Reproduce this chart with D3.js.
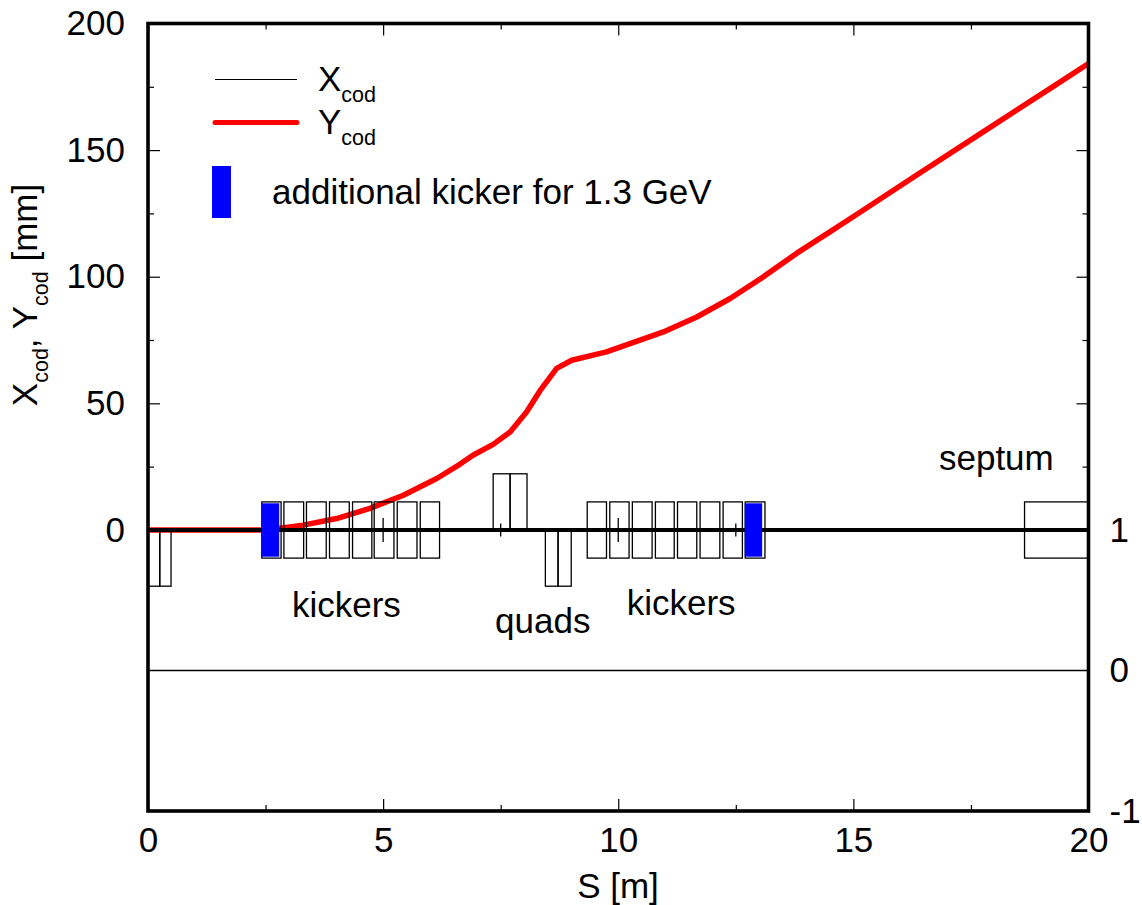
<!DOCTYPE html>
<html>
<head>
<meta charset="utf-8">
<script src="https://cdn.jsdelivr.net/npm/d3@7"></script>
<style>
  html, body { margin: 0; padding: 0; background: #fff; }
  text { font-family: "Liberation Sans", Arial, sans-serif; fill: #000; }
</style>
</head>
<body>
<svg width="1142" height="905"></svg>
<script>
// closed orbit, S in metres, Y in mm
var orbitS = [0, 2.64, 2.81, 3.30, 4.01, 4.72, 5.43, 6.14, 6.63, 6.91, 7.34, 7.70, 8.05, 8.34, 8.69, 9.01, 9.75, 10.25, 10.96, 11.67, 12.38, 13.08, 13.79, 14.50, 14.93, 16.34, 17.76, 19.18, 20];
var orbitY = [0, 0, 0.7, 1.9, 4.5, 8.5, 13.7, 20.3, 25.9, 29.5, 33.8, 38.7, 46.6, 55.1, 63.8, 67.0, 70.3, 73.6, 78.2, 84.1, 91.4, 99.9, 109.2, 117.7, 122.9, 140.1, 157.2, 174.3, 184.2];
var orbitX = [0, 20];

// lattice: start, end of each element
var kickerStart = [2.42, 2.89, 3.37, 3.86, 4.35, 4.81, 5.30, 5.79, 9.34, 9.82, 10.30, 10.79, 11.26, 11.74, 12.23, 12.70];
var kickerEnd = [2.83, 3.31, 3.79, 4.28, 4.76, 5.23, 5.72, 6.20, 9.75, 10.23, 10.72, 11.19, 11.67, 12.16, 12.64, 13.12];
var quadStart = [0, 0.25, 7.34, 7.70, 8.45, 8.72];
var quadEnd = [0.25, 0.49, 7.70, 8.06, 8.72, 9.00];
var quadStrength = [-0.4, -0.4, 0.4, 0.4, -0.4, -0.4];
var septumStart = [18.64];
var septumEnd = [20];
var extraStart = [2.42, 12.69];
var extraEnd = [2.79, 13.06];

var xMajor = [0, 5, 10, 15, 20];
var xMinor = [2.5, 7.5, 12.5, 17.5];
var yMajor = [0, 50, 100, 150, 200];
var yMinor = [25, 75, 125, 175];
var y2Ticks = [-1, 0, 1];

var midTicksLong = [5, 10];
var midTicksShort = [7.5, 12.5];

var labelText = ["kickers", "quads", "kickers", "septum"];
var labelS = [3.06, 7.38, 10.18, 16.82];
var labelY2 = [0.38, 0.267, 0.395, 1.43];

var left = 148, right = 1088.5, top_ = 23.5, bottom = 811;
var fontSize = 35;

var svg = d3.select("svg");

var x = d3.scaleLinear().domain([0, 20]).range([left, right]);
var y = d3.scaleLinear().domain([-111, 200]).range([bottom, top_]);
var y2 = d3.scaleLinear().domain([-1, 1]).range([bottom, 530]);

var line = d3.line()
    .x(function (d) { return x(d[0]); })
    .y(function (d) { return y(d[1]); });

// curves
svg.append("path")
    .attr("d", line(orbitS.map(function (s, i) { return [s, orbitY[i]]; })))
    .attr("fill", "none")
    .attr("stroke", "#ff0000")
    .attr("stroke-width", 5.5)
    .attr("stroke-linejoin", "round");

// lattice boxes, centred on y2 = 1 or sitting on it
function boxes(starts, ends, lo, hi) {
  svg.append("g").selectAll("rect")
      .data(starts)
      .enter().append("rect")
      .attr("x", function (d) { return x(d); })
      .attr("width", function (d, i) { return x(ends[i]) - x(d); })
      .attr("y", function (d, i) { return y2(1 + hi(i)); })
      .attr("height", function (d, i) { return y2(1 + lo(i)) - y2(1 + hi(i)); })
      .attr("fill", "none")
      .attr("stroke", "#000")
      .attr("stroke-width", 1.3);
}
boxes(kickerStart, kickerEnd, function () { return -0.2; }, function () { return 0.2; });
boxes(septumStart, septumEnd, function () { return -0.2; }, function () { return 0.2; });
boxes(quadStart, quadEnd,
    function (i) { return Math.min(0, quadStrength[i]); },
    function (i) { return Math.max(0, quadStrength[i]); });

// small ticks on the lattice line
function midTicks(values, half) {
  svg.append("g").selectAll("line")
      .data(values)
      .enter().append("line")
      .attr("x1", function (d) { return x(d); })
      .attr("x2", function (d) { return x(d); })
      .attr("y1", y(0) - half)
      .attr("y2", y(0) + half)
      .attr("stroke", "#000")
      .attr("stroke-width", 1.3);
}
midTicks(midTicksLong, 12);
midTicks(midTicksShort, 6.5);

svg.append("path")
    .attr("d", line(orbitX.map(function (s) { return [s, 0]; })))
    .attr("stroke", "#000")
    .attr("stroke-width", 4);

svg.append("line")
    .attr("x1", left).attr("x2", right)
    .attr("y1", y2(0)).attr("y2", y2(0))
    .attr("stroke", "#000")
    .attr("stroke-width", 1.5);

svg.append("g").selectAll("rect")
    .data(extraStart)
    .enter().append("rect")
    .attr("x", function (d) { return x(d); })
    .attr("width", function (d, i) { return x(extraEnd[i]) - x(d); })
    .attr("y", y2(1.19))
    .attr("height", y2(0.81) - y2(1.19))
    .attr("fill", "#0000ff");

// axes: ticks point inward
function styleAxis(g) {
  g.select(".domain").remove();
  g.selectAll(".tick line").attr("stroke", "#000").attr("stroke-width", 1.2);
  g.selectAll("text").attr("font-size", fontSize).style("font-family", '"Liberation Sans", Arial, sans-serif');
}
function noLabels(g) {
  styleAxis(g);
  g.selectAll("text").remove();
}

svg.append("g").attr("transform", "translate(0," + bottom + ")")
    .call(d3.axisBottom(x).tickValues(xMajor).tickSize(-12).tickPadding(16).tickFormat(String))
    .call(styleAxis);
svg.append("g").attr("transform", "translate(0," + bottom + ")")
    .call(d3.axisBottom(x).tickValues(xMinor).tickSize(-6)).call(noLabels);
svg.append("g").attr("transform", "translate(0," + top_ + ")")
    .call(d3.axisTop(x).tickValues(xMajor).tickSize(-12)).call(noLabels);
svg.append("g").attr("transform", "translate(0," + top_ + ")")
    .call(d3.axisTop(x).tickValues(xMinor).tickSize(-6)).call(noLabels);

svg.append("g").attr("transform", "translate(" + left + ",0)")
    .call(d3.axisLeft(y).tickValues(yMajor).tickSize(-12).tickPadding(23).tickFormat(String))
    .call(styleAxis);
svg.append("g").attr("transform", "translate(" + left + ",0)")
    .call(d3.axisLeft(y).tickValues(yMinor).tickSize(-6)).call(noLabels);
svg.append("g").attr("transform", "translate(" + right + ",0)")
    .call(d3.axisRight(y).tickValues(yMajor).tickSize(-12)).call(noLabels);
svg.append("g").attr("transform", "translate(" + right + ",0)")
    .call(d3.axisRight(y).tickValues(yMinor).tickSize(-6)).call(noLabels);

svg.append("g").attr("transform", "translate(" + right + ",0)")
    .call(d3.axisRight(y2).tickValues(y2Ticks).tickSize(0).tickPadding(21).tickFormat(String))
    .call(styleAxis);

// frame
svg.append("rect")
    .attr("x", left).attr("y", top_)
    .attr("width", right - left).attr("height", bottom - top_)
    .attr("fill", "none")
    .attr("stroke", "#000")
    .attr("stroke-width", 3.6);

// axis titles
function subLabel(parent, main, sub, after) {
  parent.append("tspan").text(main);
  parent.append("tspan").attr("font-size", 21.5).attr("dy", 11).text(sub);
  parent.append("tspan").attr("dy", -11).text(after);
}

var yTitle = svg.append("text")
    .attr("transform", "translate(37,295) rotate(-90)")
    .attr("text-anchor", "middle")
    .attr("font-size", fontSize);
subLabel(yTitle, "X", "cod", ", ");
subLabel(yTitle, "Y", "cod", " [mm]");

svg.append("text")
    .attr("x", 618).attr("y", 898)
    .attr("text-anchor", "middle")
    .attr("font-size", fontSize)
    .text("S [m]");

// annotations
svg.append("g").selectAll("text")
    .data(labelText)
    .enter().append("text")
    .attr("x", function (d, i) { return x(labelS[i]); })
    .attr("y", function (d, i) { return y2(labelY2[i]); })
    .attr("font-size", fontSize)
    .text(function (d) { return d; });

// legend
var legend = svg.append("g");
legend.append("line")
    .attr("x1", 215).attr("x2", 297).attr("y1", 79.5).attr("y2", 79.5)
    .attr("stroke", "#000").attr("stroke-width", 1);
legend.append("line")
    .attr("x1", 215).attr("x2", 297).attr("y1", 122.5).attr("y2", 122.5)
    .attr("stroke", "#ff0000").attr("stroke-width", 5).attr("stroke-linecap", "round");
legend.append("rect")
    .attr("x", 212).attr("y", 166).attr("width", 19).attr("height", 52)
    .attr("fill", "#0000ff");

var legendX = legend.append("text").attr("x", 318).attr("y", 91).attr("font-size", fontSize);
subLabel(legendX, "X", "cod", "");
var legendY = legend.append("text").attr("x", 318).attr("y", 134).attr("font-size", fontSize);
subLabel(legendY, "Y", "cod", "");
legend.append("text")
    .attr("x", 272).attr("y", 204)
    .attr("font-size", fontSize)
    .text("additional kicker for 1.3 GeV");
</script>
</body>
</html>
